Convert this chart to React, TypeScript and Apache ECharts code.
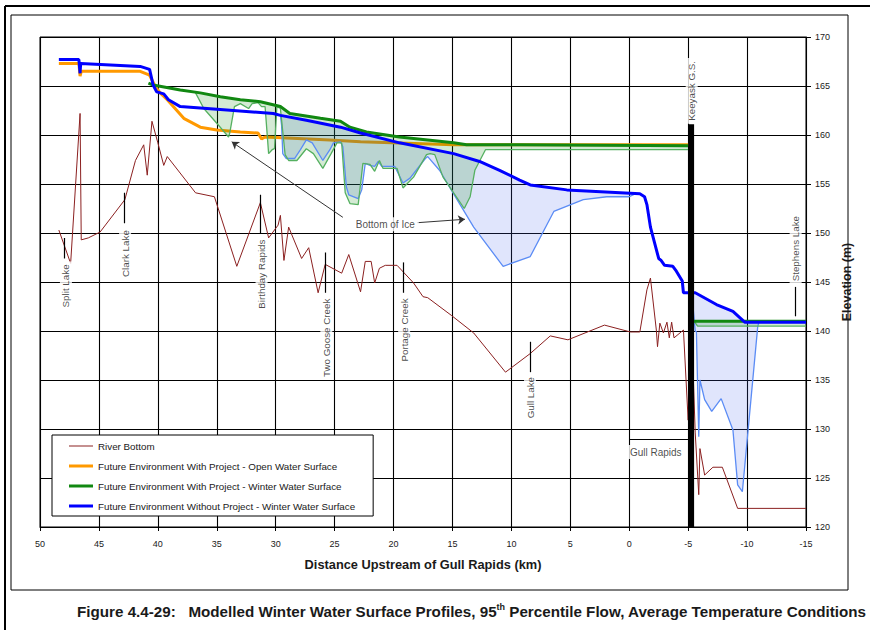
import React, { useEffect, useRef } from "react";
import * as echarts from "echarts";

// ---------- data (km upstream of Gull Rapids, elevation m) ----------
const riverBottom: number[][] = [
  [48.4, 150.3], [47.4, 146.9], [46.6, 162.2], [46.5, 149.3], [45.9, 149.5], [44.9, 150.1],
  [42.8, 153.4], [41.9, 157.4], [41.2, 159.0], [40.9, 155.9], [40.5, 161.4], [40.0, 159.2],
  [39.5, 156.9], [39.2, 157.8], [36.8, 154.1], [35.2, 153.7], [33.3, 146.6], [31.3, 153.1],
  [30.6, 149.5], [29.8, 150.8], [29.6, 151.8], [29.3, 147.2], [28.9, 150.6], [27.8, 147.4],
  [27.2, 148.5], [26.4, 143.9], [25.8, 146.8], [24.4, 145.9], [23.8, 147.8], [22.8, 144.0],
  [22.4, 147.1], [21.9, 147.1], [21.6, 144.9], [21.2, 146.4], [20.7, 146.7], [19.7, 146.7],
  [18.3, 144.9], [17.5, 143.5], [17.1, 143.4], [15.1, 141.6], [13.2, 139.8], [10.5, 135.8],
  [8.4, 137.7], [6.7, 139.5], [5.2, 139.1], [2.1, 140.6], [-0.1, 139.9], [-0.9, 139.9],
  [-1.5, 144.2], [-1.8, 145.4], [-2.3, 140.1], [-2.4, 138.4], [-2.6, 140.8], [-2.9, 139.8],
  [-3.2, 140.9], [-3.4, 139.3], [-3.6, 140.9], [-3.8, 139.3], [-4.6, 140.1], [-5.0, 130.9],
  [-5.3, 140.0], [-5.6, 129.6], [-5.9, 123.3], [-6.0, 128.0], [-6.4, 125.3], [-7.1, 126.1],
  [-7.9, 126.1], [-9.2, 121.9], [-15, 121.9],
];

const openWater: number[][] = [
  [48.4, 167.3], [46.7, 167.3], [46.6, 166.0], [46.5, 166.5], [41.5, 166.5], [40.7, 166.1],
  [40.2, 164.9], [39.8, 164.3], [39.2, 163.6], [37.8, 161.7], [36.4, 160.8], [35.0, 160.5],
  [33.0, 160.3], [31.5, 160.2], [31.2, 159.6], [30.9, 159.8], [25.4, 159.5], [22.8, 159.3],
  [14.9, 159.0], [0, 159.0], [-5.1, 159.0],
];

const withProjectWinter: number[][] = [
  [40.8, 165.3], [40.4, 165.1], [38.1, 164.6], [36.4, 164.3], [34.7, 163.9], [33.0, 163.6],
  [31.3, 163.4], [29.6, 162.9], [28.8, 162.2], [26.2, 161.7], [24.5, 161.4], [23.7, 160.8],
  [22.3, 160.3], [19.5, 159.8], [14.9, 159.2], [13.8, 159.0], [9.3, 159.0], [-5.0, 158.9],
];

const withProjectWinterDown: number[][] = [[-5.5, 141.0], [-15, 141.0]];

const withProjectIceBottom: number[][] = [
  [36.8, 164.3], [36.1, 162.7], [35.0, 161.2], [34.0, 159.8], [33.9, 160.2], [33.5, 162.9],
  [33.0, 163.2], [32.3, 162.7], [32.0, 163.2], [31.5, 163.3], [31.2, 162.9], [30.9, 162.9],
  [30.6, 158.1], [30.3, 158.5], [30.1, 158.6], [29.9, 162.9], [29.6, 162.7], [29.2, 158.0],
  [28.9, 157.4], [28.2, 157.4], [27.4, 158.6], [26.8, 158.1], [26.0, 156.6], [25.3, 158.1],
  [24.8, 159.2], [24.4, 159.2], [24.1, 154.1], [23.7, 153.0], [23.0, 152.9], [22.6, 157.1],
  [22.0, 157.0], [21.6, 156.3], [21.2, 157.4], [20.9, 156.6], [19.7, 156.6], [19.2, 154.6],
  [18.3, 155.7], [17.2, 158.0], [16.9, 158.1], [16.5, 158.0], [15.8, 155.7], [14.0, 152.5],
  [13.5, 153.7], [13.1, 156.4], [12.2, 158.5], [-5.0, 158.5],
];

const withProjectIceBottomDown: number[][] = [[-5.5, 141.0], [-5.8, 140.5], [-15, 140.5]];

const withoutProjectWinter: number[][] = [
  [48.4, 167.7], [46.7, 167.7], [46.6, 166.3], [46.55, 167.3], [41.5, 167.0], [40.7, 166.7],
  [40.4, 165.1], [40.1, 164.4], [39.5, 164.2], [39.1, 163.6], [38.1, 162.9], [34.7, 162.6],
  [30.2, 162.2], [29.6, 162.0], [27.4, 161.5], [24.5, 160.8], [22.8, 160.2], [19.5, 159.2],
  [14.9, 158.1], [12.7, 157.3], [11.0, 156.4], [9.3, 155.4], [8.4, 154.9], [5.3, 154.4],
  [-0.9, 154.0], [-1.3, 153.7], [-1.5, 152.9], [-1.8, 150.6], [-2.5, 147.4], [-2.7, 147.2],
  [-3.0, 146.7], [-3.7, 146.6], [-4.0, 146.1], [-4.5, 145.1], [-4.6, 143.9], [-5.6, 143.9],
  [-7.4, 142.7], [-8.8, 142.0], [-9.8, 140.9], [-15, 140.9],
];

const withoutProjectIceBottom: number[][] = [
  [29.6, 162.0], [29.5, 161.0], [29.4, 158.1], [29.1, 157.6], [28.4, 157.6], [27.9, 158.5],
  [27.4, 159.5], [26.9, 159.2], [26.0, 157.4], [25.4, 158.5], [25.1, 159.2], [24.5, 159.3],
  [24.3, 158.8], [24.0, 154.7], [23.8, 153.9], [23.0, 153.5], [22.7, 154.4], [22.4, 157.1],
  [22.0, 156.9], [21.6, 156.8], [21.3, 157.3], [21.0, 156.8], [19.9, 156.8], [19.2, 155.1],
  [18.6, 155.6], [17.3, 157.6], [17.1, 157.8], [16.1, 156.4], [14.9, 154.0], [13.2, 150.6],
  [10.7, 146.6], [8.4, 147.6], [6.4, 152.2], [3.9, 153.4], [1.9, 153.7], [0.0, 153.7], [-0.5, 154.0],
];

const withoutProjectIceBottomDown: number[][] = [
  [-5.3, 143.9], [-5.6, 140.0], [-5.7, 139.9], [-5.9, 129.2], [-6.0, 135.0], [-6.4, 133.0],
  [-7.0, 131.8], [-7.8, 133.1], [-8.8, 129.9], [-9.2, 124.3], [-9.6, 123.6], [-10.9, 140.4], [-11.0, 140.9],
];

const keeyaskBar: number[][] = [[-5.25, 161.1], [-5.25, 120]];

const xTicks = { min: -15, max: 50, interval: 5 };
const yTicks = { min: 120, max: 170, interval: 5 };

const seriesNames = [
  "River Bottom",
  "Future Environment With Project - Open Water Surface",
  "Future Environment With Project - Winter Water Surface",
  "Future Environment Without Project - Winter Water Surface",
];
const legendLineWidths = [1, 3, 3, 3];

// annotation labels: [name, km, elevation, rotated]
const annotLabels: [string, number, number, boolean][] = [
  ["Split Lake", 47.8, 144.6, true],
  ["Clark Lake", 42.78, 147.9, true],
  ["Birthday Rapids", 31.2, 145.8, true],
  ["Two Goose Creek", 25.7, 139.3, true],
  ["Portage Creek", 19.1, 140.1, true],
  ["Gull Lake", 8.42, 133.2, true],
  ["Stephens Lake", -14.12, 148.4, true],
  ["Keeyask G.S.", -5.3, 164.5, true],
  ["Gull Rapids", -2.25, 127.65, false],
  ["Bottom of Ice", 20.7, 150.9, false],
];

const annotTicks: number[][][] = [
  [[47.9, 149.5], [47.9, 147.4]],
  [[42.85, 154.1], [42.85, 151.0]],
  [[31.33, 153.9], [31.33, 150.0]],
  [[25.82, 148.0], [25.82, 143.9]],
  [[19.17, 147.0], [19.17, 143.9]],
  [[8.42, 138.9], [8.42, 135.8]],
  [[-14.12, 144.5], [-14.12, 141.5]],
  [[0, 129.0], [-5.07, 129.0]],
];

const annotArrows: number[][][] = [
  [[24.3, 151.6], [33.73, 159.3]],
  [[18.0, 151.05], [13.94, 151.4]],
];

// ---------- helpers ----------
function interp(line: number[][], x: number): number {
  for (let i = 0; i < line.length - 1; i++) {
    const a = line[i], b = line[i + 1];
    const hi = Math.max(a[0], b[0]), lo = Math.min(a[0], b[0]);
    if (x <= hi && x >= lo) {
      if (a[0] === b[0]) return a[1];
      return a[1] + ((x - a[0]) / (b[0] - a[0])) * (b[1] - a[1]);
    }
  }
  return line[line.length - 1][1];
}

function buildPolygon(bottom: number[][], surface: number[][]): number[][] {
  const x0 = bottom[0][0];
  const x1 = bottom[bottom.length - 1][0];
  const inner = surface.filter((p) => p[0] < x0 && p[0] > x1).slice().reverse();
  return [...bottom, [x1, interp(surface, x1)], ...inner, [x0, interp(surface, x0)]];
}

function polySeries(points: number[][], fill: string, z: number) {
  return {
    type: "custom",
    silent: true,
    z,
    data: points,
    encode: { x: 0, y: 1 },
    renderItem: (params: any, api: any) => {
      if (params.dataIndex !== 0) return null;
      const pts = points.map((p) => api.coord(p));
      return { type: "polygon", shape: { points: pts }, style: { fill, stroke: "none" } };
    },
  };
}

const FONT = "Liberation Sans";
const TXT = "#1a1a1a";

export default function App() {
  const ref = useRef<HTMLDivElement>(null);
  useEffect(() => {
    if (!ref.current) return;
    const chart = echarts.init(ref.current, null, { renderer: "svg" });

    const lineS = (name: string, data: number[][], color: string, width: number, z: number) => ({
      type: "line",
      name,
      data,
      symbol: "none",
      showSymbol: false,
      silent: true,
      z,
      lineStyle: { color, width },
      itemStyle: { color },
    });

    const option: any = {
      animation: false,
      backgroundColor: "#fff",
      textStyle: { fontFamily: FONT },
      grid: {
        left: 40, right: 64, top: 37, bottom: 103,
        show: true, borderColor: "#000", borderWidth: 1, backgroundColor: "transparent",
      },
      legend: {
        data: seriesNames.map((n, i) => ({
          name: n,
          icon: `path://M0,0h24v${legendLineWidths[i]}h-24z`,
        })),
        symbolKeepAspect: true,
        orient: "vertical",
        left: 52,
        top: 435,
        itemWidth: 24,
        itemHeight: 14,
        itemGap: 6,
        padding: [4, 18, 3, 17],
        borderColor: "#000",
        borderWidth: 1,
        backgroundColor: "#fff",
        textStyle: { fontFamily: FONT, fontSize: 9.8, color: TXT, height: 14, lineHeight: 14 },
        selectedMode: false,
      },
      xAxis: {
        type: "value",
        min: xTicks.min, max: xTicks.max, interval: xTicks.interval,
        inverse: true,
        axisLine: { show: true, onZero: false, lineStyle: { color: "#000" } },
        axisTick: { show: true, length: 4, lineStyle: { color: "#000" } },
        axisLabel: { color: TXT, fontSize: 9, margin: 12, fontFamily: FONT },
        splitLine: { show: true, lineStyle: { color: "#000", width: 1.1 } },
        name: "Distance Upstream of Gull Rapids (km)",
        nameLocation: "middle",
        nameGap: 31,
        nameTextStyle: { fontWeight: "bold", fontSize: 12.8, color: TXT, fontFamily: FONT },
      },
      yAxis: {
        type: "value",
        position: "right",
        min: yTicks.min, max: yTicks.max, interval: yTicks.interval,
        axisLine: { show: true, onZero: false, lineStyle: { color: "#000" } },
        axisTick: { show: true, length: 5, lineStyle: { color: "#000" } },
        axisLabel: { color: TXT, fontSize: 9, margin: 9, fontFamily: FONT },
        splitLine: { show: true, lineStyle: { color: "#000", width: 1.1 } },
        name: "Elevation (m)",
        nameLocation: "middle",
        nameGap: 32,
        nameRotate: 90,
        nameTextStyle: { fontWeight: "bold", fontSize: 12.5, color: TXT, fontFamily: FONT },
      },
      series: [
        lineS(seriesNames[0], riverBottom, "#8B2020", 1, 4),
        lineS(seriesNames[1], openWater, "#FF9900", 3, 2),
        polySeries(buildPolygon(withoutProjectIceBottom, withoutProjectWinter), "rgba(70,100,240,0.17)", 3),
        polySeries(buildPolygon(withoutProjectIceBottomDown, withoutProjectWinter), "rgba(70,100,240,0.17)", 3),
        polySeries(buildPolygon(withProjectIceBottom, withProjectWinter), "rgba(0,128,0,0.17)", 3),
        polySeries(buildPolygon(withProjectIceBottomDown, withProjectWinterDown), "rgba(0,128,0,0.17)", 3),
        lineS("Without Project - Bottom of Ice", withoutProjectIceBottom, "#5b8cf5", 1.3, 4),
        lineS("Without Project - Bottom of Ice", withoutProjectIceBottomDown, "#5b8cf5", 1.3, 4),
        lineS("With Project - Bottom of Ice", withProjectIceBottom, "#55b060", 1.3, 4),
        lineS("With Project - Bottom of Ice", withProjectIceBottomDown, "#55b060", 1.3, 4),
        lineS(seriesNames[2], withProjectWinter, "#118811", 3, 5),
        lineS(seriesNames[2], withProjectWinterDown, "#118811", 3, 5),
        lineS(seriesNames[3], withoutProjectWinter, "#0000FF", 3, 6),
        lineS("Keeyask G.S.", keeyaskBar, "#000", 6, 7),
        {
          type: "lines",
          coordinateSystem: "cartesian2d",
          silent: true,
          z: 7,
          symbol: "none",
          lineStyle: { color: "#000", width: 1.2, opacity: 1 },
          data: annotTicks.map((c) => ({ coords: c })),
        },
        {
          type: "lines",
          coordinateSystem: "cartesian2d",
          silent: true,
          z: 7,
          symbol: ["none", "arrow"],
          symbolSize: 7,
          lineStyle: { color: "#333", width: 1, opacity: 1 },
          data: annotArrows.map((c) => ({ coords: c })),
        },
        {
          type: "scatter",
          silent: true,
          z: 8,
          symbolSize: 0,
          data: annotLabels.map(([name, x, y, rot]) => ({
            name,
            value: [x, y],
            label: {
              show: true,
              position: "inside",
              formatter: "{b}",
              rotate: rot ? 90 : 0,
              backgroundColor: "#fff",
              padding: rot ? [1, 3] : [2, 4],
              color: TXT,
              fontSize: rot ? 9.8 : 10,
              fontFamily: FONT,
            },
          })),
        },
      ],
      graphic: [
        { type: "line", silent: true, shape: { x1: 5, y1: 6, x2: 870, y2: 6 }, style: { stroke: "#000", lineWidth: 2 } },
        { type: "line", silent: true, shape: { x1: 5, y1: 6, x2: 5, y2: 630 }, style: { stroke: "#000", lineWidth: 2 } },
        { type: "rect", silent: true, shape: { x: 11, y: 15, width: 837, height: 575 }, style: { fill: "none", stroke: "#000", lineWidth: 1 } },
        {
          type: "text",
          silent: true,
          x: 77,
          y: 611,
          style: {
            text: "{a|Figure 4.4-29:   Modelled Winter Water Surface Profiles, 95}{b|th}{a| Percentile Flow, Average Temperature Conditions}",
            verticalAlign: "middle",
            rich: {
              a: { fontFamily: FONT, fontWeight: "bold", fontSize: 15.2, fill: TXT },
              b: { fontFamily: FONT, fontWeight: "bold", fontSize: 9, fill: TXT, verticalAlign: "bottom", padding: [0, 0, 8, 0] },
            },
          },
        },
      ],
    };
    chart.setOption(option);
    return () => chart.dispose();
  }, []);
  return (
    <div
      ref={ref}
      style={{ position: "fixed", left: 0, top: 0, width: 870, height: 630, background: "#fff" }}
    />
  );
}
